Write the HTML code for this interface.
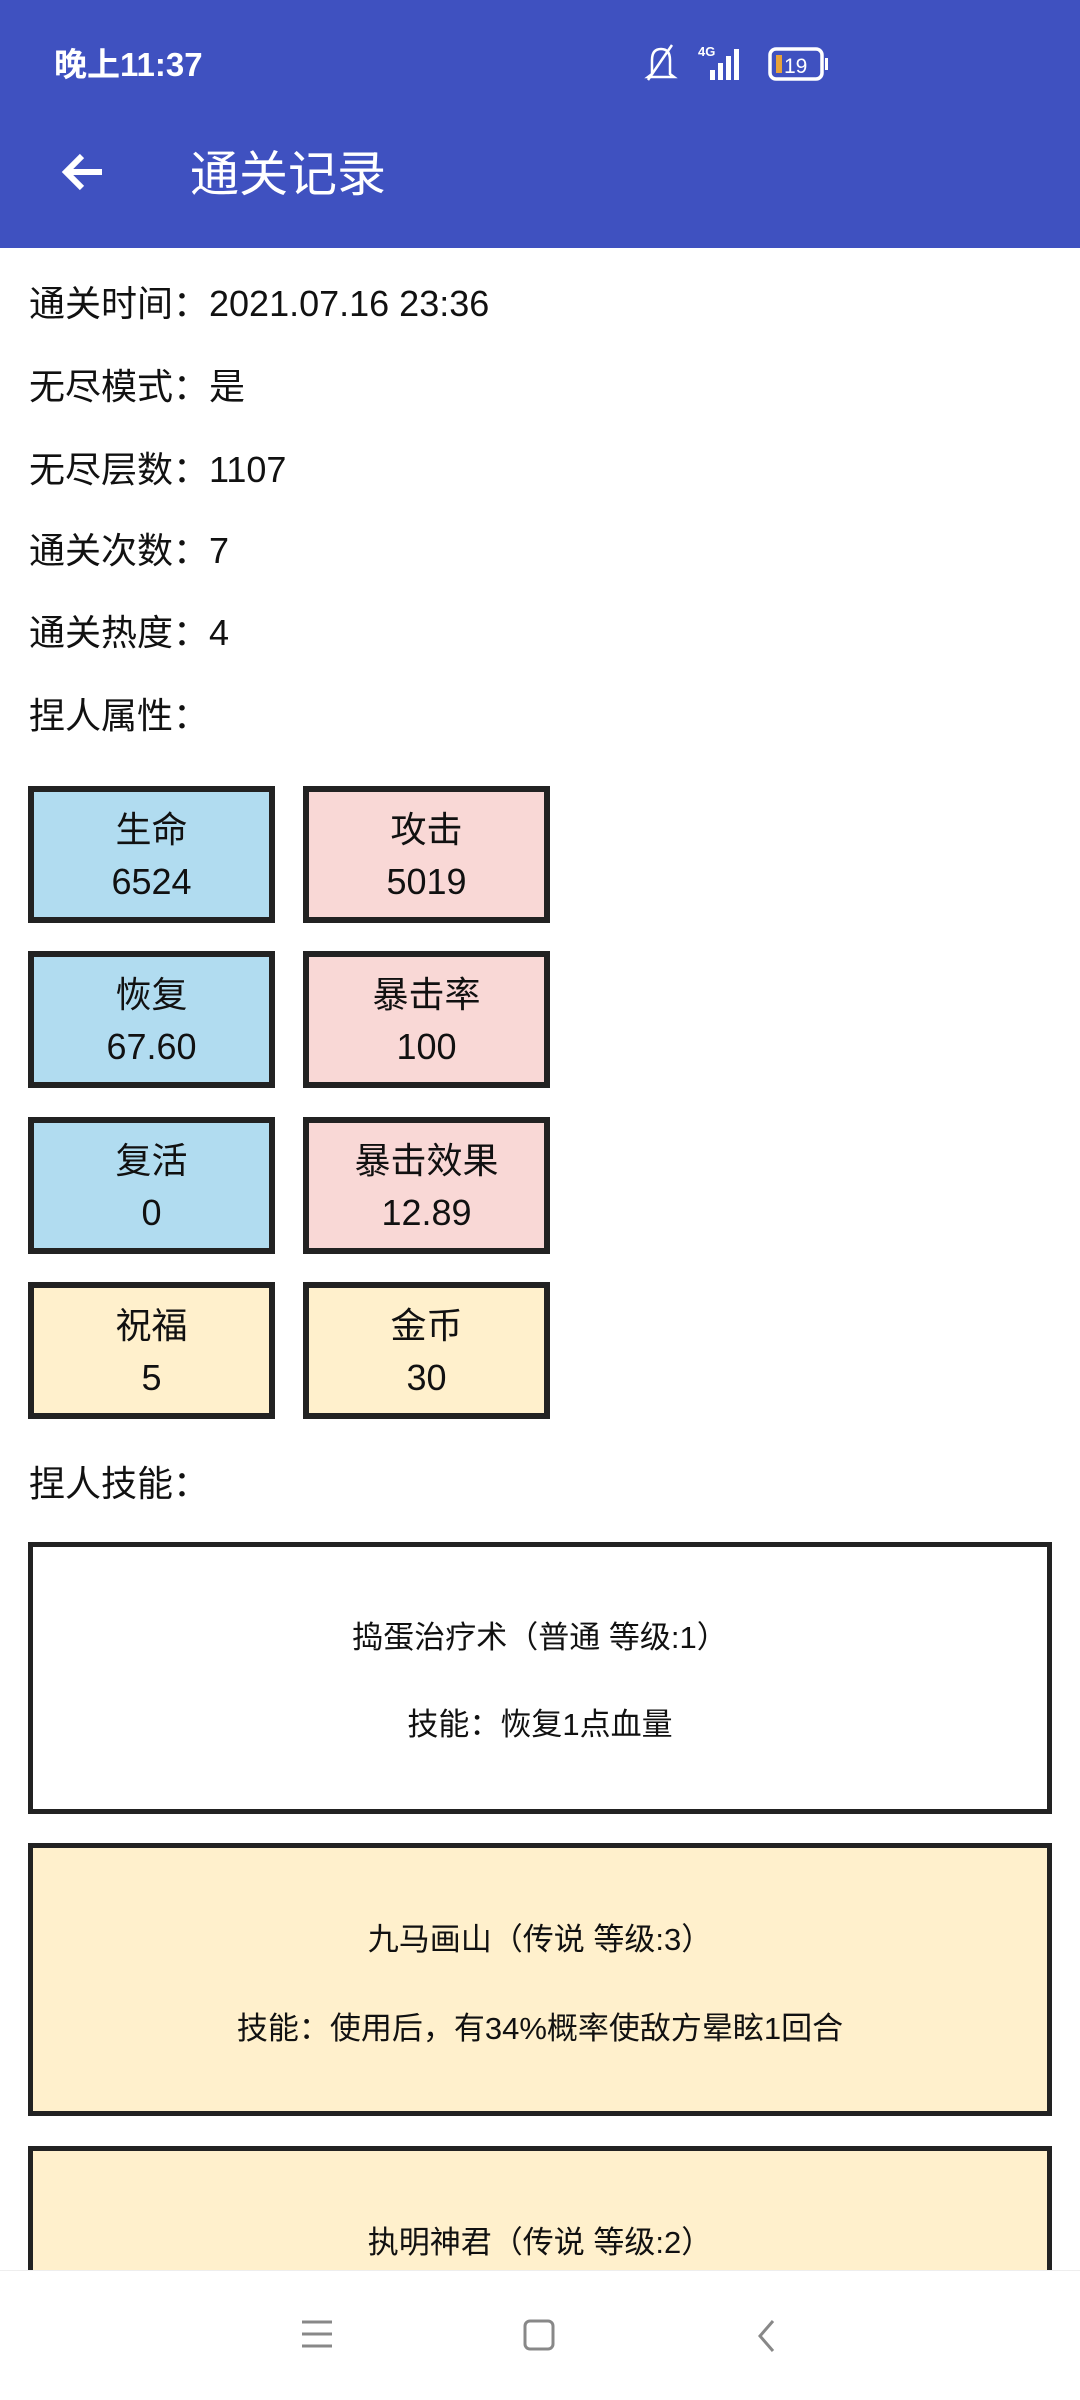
<!DOCTYPE html>
<html><head><meta charset="utf-8"><style>
*{margin:0;padding:0;box-sizing:border-box}
html,body{width:1080px;height:2400px;overflow:hidden}
body{background:#fff;position:relative;font-family:"Liberation Sans","Noto Sans CJK SC",sans-serif;color:#111}
.hdr{position:absolute;left:0;top:0;width:1080px;height:248px;background:#3f51c0;color:#fff}
.t{position:absolute;white-space:nowrap}
.line{position:absolute;left:29px;font-size:36px;line-height:40px}
.box{position:absolute;width:247px;height:137px;border:6px solid #222;text-align:center;font-size:36px;line-height:52px;padding-top:12px}
.b{background:#b1dcf0}.p{background:#f9d8d6}.y{background:#fff0cc}
.sk{position:absolute;left:28px;width:1024px;border:5px solid #222;text-align:center;font-size:31px}
.nav{position:absolute;left:0;top:2270px;width:1080px;height:130px;background:#fff;border-top:1px solid #eee}
</style></head><body>
<div class="hdr">
<div class="t" style="left:54px;top:38px;font-size:33px;font-weight:bold">晚上11:37</div>
<svg style="position:absolute;left:640px;top:42px" width="200" height="44">
<path d="M12 32 L12 18 Q12 7 21 7 Q30 7 30 18 L30 32 L34 35 L8 35 Z" fill="none" stroke="#fff" stroke-width="2.5"/>
<line x1="8" y1="38" x2="32" y2="3" stroke="#fff" stroke-width="2.5"/>
<text x="58" y="14" fill="#fff" font-size="13" font-weight="bold" font-family="Liberation Sans">4G</text>
<rect x="70" y="28" width="5" height="10" fill="#fff"/><rect x="78" y="21" width="5" height="17" fill="#fff"/><rect x="86" y="14" width="5" height="24" fill="#fff"/><rect x="94" y="7" width="5" height="31" fill="#fff"/>
<rect x="130" y="7" width="52" height="30" rx="6" fill="none" stroke="#fff" stroke-width="3.5"/>
<rect x="136" y="13" width="6" height="18" fill="#e8a33a"/>
<text x="144" y="31" fill="#fff" font-size="21" font-family="Liberation Sans">19</text>
<rect x="185" y="16" width="3" height="12" fill="#fff"/>
</svg>
<svg style="position:absolute;left:58px;top:150px" width="50" height="45"><path d="M44 22 H8 M24 6 L8 22 L24 38" stroke="#fff" stroke-width="6" fill="none"/></svg>
<div class="t" style="left:190px;top:135px;font-size:49px">通关记录</div>
</div>
<div class="line" style="top:284px">通关时间：2021.07.16 23:36</div>
<div class="line" style="top:367px">无尽模式：是</div>
<div class="line" style="top:450px">无尽层数：1107</div>
<div class="line" style="top:531px">通关次数：7</div>
<div class="line" style="top:613px">通关热度：4</div>
<div class="line" style="top:696px">捏人属性：</div>

<div class="box b" style="left:28px;top:786px">生命<br>6524</div>
<div class="box p" style="left:303px;top:786px">攻击<br>5019</div>
<div class="box b" style="left:28px;top:951px">恢复<br>67.60</div>
<div class="box p" style="left:303px;top:951px">暴击率<br>100</div>
<div class="box b" style="left:28px;top:1117px">复活<br>0</div>
<div class="box p" style="left:303px;top:1117px">暴击效果<br>12.89</div>
<div class="box y" style="left:28px;top:1282px">祝福<br>5</div>
<div class="box y" style="left:303px;top:1282px">金币<br>30</div>

<div class="line" style="top:1464px">捏人技能：</div>

<div class="sk" style="top:1542px;height:272px;background:#fff">
<div style="position:absolute;width:100%;top:65px">捣蛋治疗术（普通 等级:1）</div>
<div style="position:absolute;width:100%;top:152px">技能：恢复1点血量</div></div>
<div class="sk y" style="top:1843px;height:273px">
<div style="position:absolute;width:100%;top:66px">九马画山（传说 等级:3）</div>
<div style="position:absolute;width:100%;top:155px">技能：使用后，有34%概率使敌方晕眩1回合</div></div>
<div class="sk y" style="top:2146px;height:254px">
<div style="position:absolute;width:100%;top:66px">执明神君（传说 等级:2）</div></div>

<div class="nav">
<svg style="position:absolute;left:300px;top:48px" width="34" height="30"><path d="M2 3H32M2 15H32M2 27H32" stroke="#888" stroke-width="3"/></svg>
<svg style="position:absolute;left:522px;top:47px" width="34" height="34"><rect x="3" y="3" width="28" height="28" rx="5" fill="none" stroke="#888" stroke-width="3"/></svg>
<svg style="position:absolute;left:755px;top:47px" width="24" height="36"><path d="M18 3L5 18L18 33" stroke="#888" stroke-width="3" fill="none"/></svg>
</div>
</body></html>
